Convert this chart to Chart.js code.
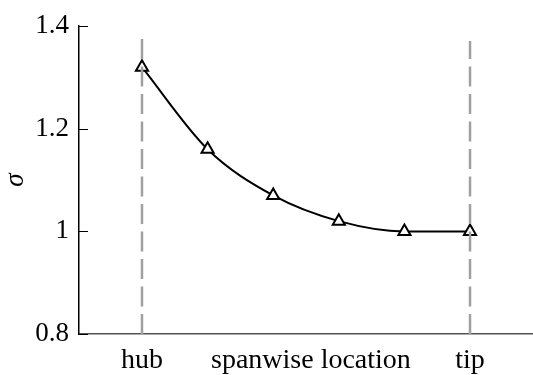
<!DOCTYPE html>
<html lang="en">
<head>
  <meta charset="UTF-8">
  <title>Sigma along span</title>
  <script src="https://cdn.jsdelivr.net/npm/chart.js"></script>
  <style>
    html, body { margin: 0; padding: 0; background: #fff; overflow: hidden; }
    .chart-container { width: 533px; height: 375px; }
  </style>
</head>
<body>
<div class="chart-container">
  <canvas id="sigmaChart"></canvas>
</div>
<script>
  // Data
  const positions = [0, 0.2, 0.4, 0.6, 0.8, 1];
  const sigma = [1.32, 1.16, 1.07, 1.02, 1.0, 1.0];
  const xTickValues = [0, 0.515, 1];
  const xTickLabels = ['hub', 'spanwise location', 'tip'];
  const yTickValues = [0.8, 1, 1.2, 1.4];
  // dashed markers, drawn from the axis upwards
  const hubLine = [0.8, 1.385];
  const tipLine = [0.8, 1.371];

  const serif = '"Liberation Serif", "Times New Roman", serif';

  // small inward tick marks on the y axis
  const innerTicks = {
    id: 'innerTicks',
    afterDraw(chart) {
      const y = chart.scales.y;
      const c = chart.ctx;
      c.save();
      c.strokeStyle = '#000';
      c.lineWidth = 1;
      y.ticks.forEach(t => {
        const py = Math.round(y.getPixelForValue(t.value)) + 0.5;
        c.beginPath();
        c.moveTo(y.right, py);
        c.lineTo(y.right + 9, py);
        c.stroke();
      });
      c.restore();
    }
  };

  const ctx = document.getElementById('sigmaChart').getContext('2d');
  new Chart(ctx, {
    type: 'line',
    data: {
      datasets: [
        {
          label: 'hub',
          data: hubLine.map(v => ({ x: 0, y: v })),
          borderColor: '#a0a0a0',
          borderWidth: 2.5,
          borderDash: [20, 7.5],
          pointRadius: 0
        },
        {
          label: 'tip',
          data: tipLine.map(v => ({ x: 1, y: v })),
          borderColor: '#a0a0a0',
          borderWidth: 2.5,
          borderDash: [20, 7.5],
          pointRadius: 0
        },
        {
          label: 'sigma',
          data: positions.map((p, i) => ({ x: p, y: sigma[i] })),
          borderColor: '#000',
          borderWidth: 2,
          cubicInterpolationMode: 'monotone',
          pointStyle: 'triangle',
          pointRadius: 7,
          pointBackgroundColor: '#fff',
          pointBorderColor: '#000',
          pointBorderWidth: 2
        }
      ]
    },
    options: {
      responsive: true,
      maintainAspectRatio: false,
      animation: false,
      layout: { autoPadding: false, padding: { top: 20, right: 0, left: 0, bottom: 0 } },
      plugins: {
        legend: { display: false },
        tooltip: { enabled: false }
      },
      scales: {
        x: {
          type: 'linear',
          min: -0.192,
          max: 1.192,
          afterBuildTicks: s => { s.ticks = xTickValues.map(v => ({ value: v })); },
          afterFit: s => { s.height = 41; s.paddingLeft = 0; s.paddingRight = 0; },
          grid: { display: false, drawTicks: false },
          border: { color: '#555', width: 1.5 },
          ticks: {
            padding: 10,
            color: '#000',
            maxRotation: 0,
            autoSkip: false,
            font: { family: serif, size: 28 },
            callback: v => xTickLabels[xTickValues.indexOf(v)]
          }
        },
        y: {
          min: 0.8,
          max: 1.4,
          afterBuildTicks: s => { s.ticks = yTickValues.map(v => ({ value: v })); },
          afterFit: s => { s.width = 79; },
          grid: { display: false, drawTicks: false },
          border: { color: '#000', width: 1.5 },
          title: {
            display: true,
            text: 'σ',
            color: '#000',
            padding: { top: 0, bottom: 0 },
            font: { family: serif, size: 27, style: 'italic' }
          },
          ticks: {
            padding: 10,
            color: '#000',
            font: { family: serif, size: 27 },
            callback: v => String(v)
          }
        }
      }
    },
    plugins: [innerTicks]
  });
</script>
</body>
</html>
